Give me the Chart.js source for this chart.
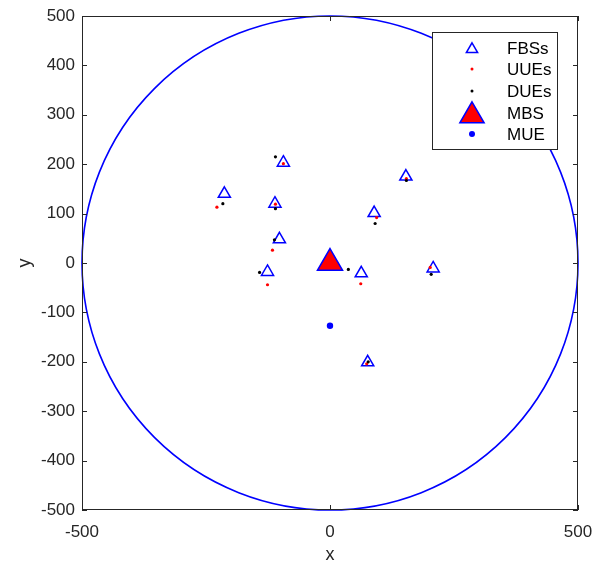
<!DOCTYPE html>
<html>
<head>
<meta charset="utf-8">
<script src="https://cdn.jsdelivr.net/npm/chart.js"></script>
<style>
    body { margin: 0; background: #fff; }
    #wrap { width: 612px; height: 566px; }
</style>
</head>
<body>
<div id="wrap"><canvas id="netChart"></canvas></div>
<script>
// femto base stations
const fbsX = [-213, -94, -111, -102, -126, 89, 153, 63, 208, 76];
const fbsY = [140, 203, 120, 48, -18, 101, 175, -21, -11, -201];
// uplink user equipment
const uueX = [-228, -94, -110, -116, -126, 94, 154, 62, 202, 74];
const uueY = [113, 201, 119, 26, -44, 92, 171, -42, -9, -204];
// downlink user equipment
const dueX = [-216, -110, -110, -112, -142, 91, 154, 37, 204, 77];
const dueY = [120, 215, 110, 47, -19, 80, 167, -13, -23, -200];
const mbsX = [0];
const mbsY = [0];
const mueX = [0];
const mueY = [-127];
const cellRadius = 500;
const xTicks = [-500, 0, 500];
const yTicks = [-500, -400, -300, -200, -100, 0, 100, 200, 300, 400, 500];
const legendLabels = ['FBSs', 'UUEs', 'DUEs', 'MBS', 'MUE'];

const AXIS = '#262626';
const FONT = 'Liberation Sans, Arial, Helvetica, sans-serif';

const toPoints = (xs, ys) => {
    let pts = [];
    for (let i = 0; i < xs.length; i++) {
        pts.push({x: xs[i], y: ys[i]});
    }
    return pts;
}

const drawMarker = (ctx, style, x, y, r, fill, stroke, lw) => {
    ctx.save();
    ctx.beginPath();
    if (style === 'triangle') {
        let a = 0;
        ctx.moveTo(x + Math.sin(a) * r, y - Math.cos(a) * r);
        a += Math.PI * 2 / 3;
        ctx.lineTo(x + Math.sin(a) * r, y - Math.cos(a) * r);
        a += Math.PI * 2 / 3;
        ctx.lineTo(x + Math.sin(a) * r, y - Math.cos(a) * r);
        ctx.closePath();
    } else {
        ctx.arc(x, y, r, 0, Math.PI * 2);
    }
    if (fill) { ctx.fillStyle = fill; ctx.fill(); }
    if (stroke && lw) { ctx.strokeStyle = stroke; ctx.lineWidth = lw; ctx.stroke(); }
    ctx.restore();
}

// circle of the macro cell, drawn through the scales
const cellCircle = {
    id: 'cellCircle',
    beforeDatasetsDraw(chart) {
        const {ctx, scales: {x, y}} = chart;
        const cx = x.getPixelForValue(0), cy = y.getPixelForValue(0);
        const rx = x.getPixelForValue(cellRadius) - cx;
        const ry = cy - y.getPixelForValue(cellRadius);
        ctx.save();
        ctx.beginPath();
        ctx.ellipse(cx, cy, rx, ry, 0, 0, Math.PI * 2);
        ctx.strokeStyle = '#0000ff';
        ctx.lineWidth = 1.6;
        ctx.stroke();
        ctx.restore();
    }
}

// matlab style box with inward ticks, plus legend
const boxAndLegend = {
    id: 'boxAndLegend',
    afterDraw(chart) {
        const {ctx, chartArea: a, scales: {x, y}} = chart;
        ctx.save();
        ctx.strokeStyle = AXIS;
        ctx.lineWidth = 1;
        ctx.strokeRect(a.left + 0.5, a.top + 0.5, a.right - a.left - 1, a.bottom - a.top - 1);
        const tl = 5;
        ctx.beginPath();
        x.ticks.forEach(t => {
            const px = Math.round(x.getPixelForValue(t.value)) + 0.5;
            ctx.moveTo(px, a.bottom); ctx.lineTo(px, a.bottom - tl);
            ctx.moveTo(px, a.top); ctx.lineTo(px, a.top + tl);
        });
        y.ticks.forEach(t => {
            const py = Math.round(y.getPixelForValue(t.value)) + 0.5;
            ctx.moveTo(a.left, py); ctx.lineTo(a.left + tl, py);
            ctx.moveTo(a.right, py); ctx.lineTo(a.right - tl, py);
        });
        ctx.stroke();

        // legend
        const lx = 432, ly = 32, lw = 125, lh = 117;
        ctx.fillStyle = '#fff';
        ctx.fillRect(lx, ly, lw, lh);
        ctx.strokeRect(lx + 0.5, ly + 0.5, lw, lh);
        const rows = [48, 69, 91, 113, 134];
        const sizes = [6.5, 1.5, 1.5, 14, 3];
        chart.data.datasets.forEach((ds, i) => {
            drawMarker(ctx, ds.pointStyle, 472, rows[i] + (ds.pointStyle === 'triangle' ? sizes[i] * 0.2 : 0), sizes[i],
                ds.pointBackgroundColor, ds.pointBorderColor, ds.pointBorderWidth);
            ctx.fillStyle = '#000';
            ctx.font = '17px ' + FONT;
            ctx.textBaseline = 'middle';
            ctx.textAlign = 'left';
            ctx.fillText(legendLabels[i], 507, rows[i] + 1);
        });
        ctx.restore();
    }
}

const buildDatasets = () => {
    return [
        {label: legendLabels[0], data: toPoints(fbsX, fbsY), pointStyle: 'triangle', pointRadius: 7,
            pointBackgroundColor: 'rgba(0,0,0,0)', pointBorderColor: '#0000ff', pointBorderWidth: 1.5, order: 5},
        {label: legendLabels[1], data: toPoints(uueX, uueY), pointStyle: 'circle', pointRadius: 1.6,
            pointBackgroundColor: '#ff0000', pointBorderColor: '#ff0000', pointBorderWidth: 0, order: 4},
        {label: legendLabels[2], data: toPoints(dueX, dueY), pointStyle: 'circle', pointRadius: 1.6,
            pointBackgroundColor: '#000000', pointBorderColor: '#000000', pointBorderWidth: 0, order: 3},
        {label: legendLabels[3], data: toPoints(mbsX, mbsY), pointStyle: 'triangle', pointRadius: 14.5,
            pointBackgroundColor: '#ff0000', pointBorderColor: '#0000ff', pointBorderWidth: 1.5, order: 2},
        {label: legendLabels[4], data: toPoints(mueX, mueY), pointStyle: 'circle', pointRadius: 3.2,
            pointBackgroundColor: '#0000ff', pointBorderColor: '#0000ff', pointBorderWidth: 0, order: 1}
    ];
}

const noPad = s => {
    s.paddingTop = 0; s.paddingBottom = 0; s.paddingLeft = 0; s.paddingRight = 0;
}

const initChart = () => {
    const canvas = document.getElementById('netChart');
    return new Chart(canvas, {
        type: 'scatter',
        data: {datasets: buildDatasets()},
        options: {
            responsive: true,
            maintainAspectRatio: false,
            animation: false,
            events: [],
            layout: {padding: {top: 14, right: 34, left: 0, bottom: 0}},
            plugins: {legend: {display: false}, tooltip: {enabled: false}},
            scales: {
                x: {
                    min: -500, max: 500,
                    afterFit: s => { s.height = 56; noPad(s); },
                    afterBuildTicks: s => { s.ticks = xTicks.map(v => ({value: v})); },
                    grid: {display: false, drawTicks: false},
                    border: {display: false},
                    ticks: {color: AXIS, font: {family: FONT, size: 17}, padding: 12, maxRotation: 0},
                    title: {display: true, text: 'x', color: AXIS, font: {family: FONT, size: 18}, padding: {bottom: 0}}
                },
                y: {
                    min: -500, max: 500,
                    afterFit: s => { s.width = 82; noPad(s); },
                    afterBuildTicks: s => { s.ticks = yTicks.map(v => ({value: v})); },
                    grid: {display: false, drawTicks: false},
                    border: {display: false},
                    ticks: {color: AXIS, font: {family: FONT, size: 17}, padding: 7},
                    title: {display: true, text: 'y', color: AXIS, font: {family: FONT, size: 18}, padding: {top: 14}}
                }
            }
        },
        plugins: [cellCircle, boxAndLegend]
    });
}

document.addEventListener("DOMContentLoaded", function () {
    initChart();
});
</script>
</body>
</html>
